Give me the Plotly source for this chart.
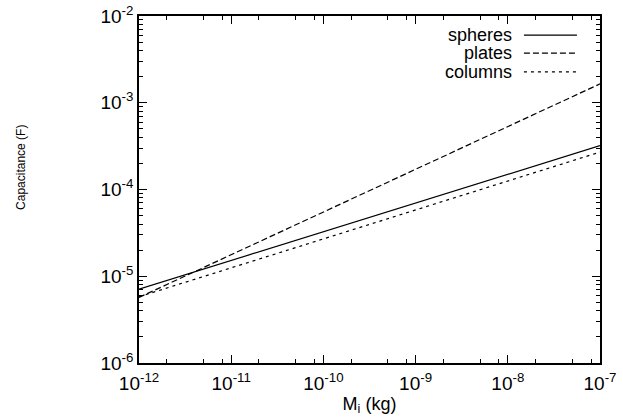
import numpy as np
import plotly.graph_objects as go

# Ice particle mass (kg) at the ends of the plotted range
mass = [1e-12, 1e-7]

# Capacitance (F) for each crystal habit
spheres = [7.1e-6, 3.2e-4]
plates = [5.7e-6, 1.65e-3]
columns = [5.8e-6, 2.7e-4]

x_ticks = [1e-12, 1e-11, 1e-10, 1e-9, 1e-8, 1e-7]
x_ticktext = ["10<sup>-12</sup>", "10<sup>-11</sup>", "10<sup>-10</sup>",
              "10<sup>-9</sup>", "10<sup>-8</sup>", "10<sup>-7</sup>"]
y_ticks = [1e-6, 1e-5, 1e-4, 1e-3, 1e-2]
y_ticktext = ["10<sup>-6</sup>", "10<sup>-5</sup>", "10<sup>-4</sup>",
              "10<sup>-3</sup>", "10<sup>-2</sup>"]

FONT = "Liberation Sans, Arial, Helvetica, sans-serif"

# minor ticks: 2,5,8 on the mass axis, every digit on the capacitance axis
x_minor = [m * d for m in x_ticks[:-1] for d in (2, 5, 8)]
y_minor = [m * d for m in y_ticks[:-1] for d in range(2, 10)]

series = [
    ("spheres", spheres, "solid"),
    ("plates", plates, "6px,3px"),
    ("columns", columns, "3px,4px"),
]

fig = go.Figure()
for name, vals, dash in series:
    fig.add_trace(go.Scatter(
        x=mass, y=vals, mode="lines", name=name,
        line=dict(color="black", width=1.2, dash=dash),
        showlegend=False,
    ))

# legend drawn as right-aligned labels followed by line samples
leg_y = [0.945, 0.893, 0.839]
for (name, vals, dash), yy in zip(series, leg_y):
    fig.add_annotation(
        x=0.811, y=yy, xref="paper", yref="paper", text=name,
        showarrow=False, xanchor="right", yanchor="middle", borderpad=0,
        font=dict(family=FONT, size=18, color="black"),
    )
    fig.add_shape(
        type="line", xref="paper", yref="paper",
        x0=0.835, x1=0.950, y0=yy, y1=yy,
        line=dict(color="black", width=1.2, dash=dash),
    )

# vertical axis title placed to the far left of the tick labels
fig.add_annotation(
    x=-0.256, y=0.565, xref="paper", yref="paper", text="Capacitance (F)",
    showarrow=False, textangle=-90, xanchor="center", yanchor="middle",
    font=dict(family=FONT, size=12, color="black"),
)

axis_common = dict(
    type="log",
    showgrid=False,
    zeroline=False,
    showline=True,
    linecolor="black",
    linewidth=1.5,
    mirror="allticks",
    ticks="inside",
    ticklen=8,
    tickwidth=1.2,
    tickcolor="black",
    tickfont=dict(family=FONT, size=19, color="black"),
)

fig.update_xaxes(
    **axis_common,
    range=[-12, -7],
    tickmode="array", tickvals=x_ticks, ticktext=x_ticktext,
    ticklabelstandoff=2,
    minor=dict(tickmode="array", tickvals=x_minor, ticks="inside",
               ticklen=4, tickwidth=1.2, tickcolor="black", showgrid=False),
    title=dict(text="M<sub>i</sub> (kg)",
               font=dict(family=FONT, size=18, color="black"), standoff=3),
)
fig.update_yaxes(
    **axis_common,
    range=[-6, -2],
    tickmode="array", tickvals=y_ticks, ticktext=y_ticktext,
    minor=dict(tickmode="array", tickvals=y_minor, ticks="inside",
               ticklen=4, tickwidth=1.2, tickcolor="black", showgrid=False),
)

fig.update_layout(
    width=623, height=419,
    margin=dict(l=139, r=23, t=16, b=56, autoexpand=False),
    paper_bgcolor="white",
    plot_bgcolor="white",
    font=dict(family=FONT, color="black"),
)

fig.write_html("out.html")
